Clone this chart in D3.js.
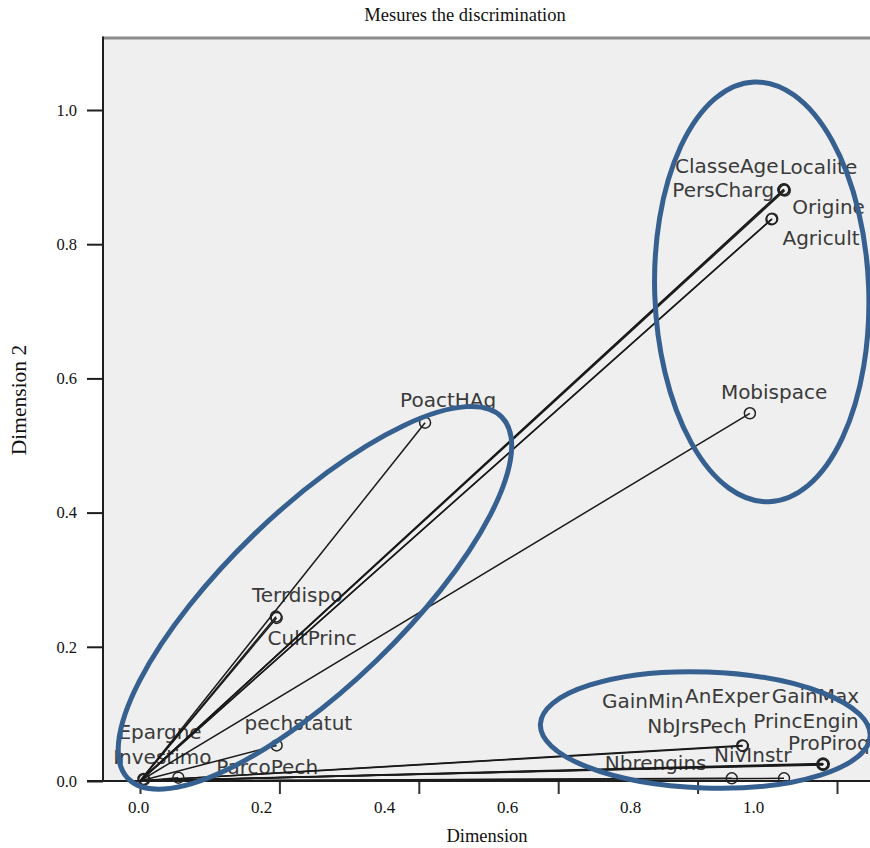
<!DOCTYPE html>
<html>
<head>
<meta charset="utf-8">
<script src="https://cdn.jsdelivr.net/npm/d3@7"></script>
<style>
  html, body { margin: 0; padding: 0; background: #ffffff; }
  svg { display: block; }
</style>
</head>
<body>
<svg id="chart" width="870" height="848"></svg>
<script>
// ---------------- data ----------------
const variables = ["ClasseAge","Localite","PersCharg","Origine","Agricult","Mobispace",
  "PoactHAg","Terrdispo","CultPrinc","pechstatut","Epargne","Investimo","ParcoPech",
  "GainMin","NbJrsPech","AnExper","GainMax","PrincEngin","ProPiroq","NivInstr","Nbrengins"];
const dimension1 = [0.924,0.925,0.923,0.907,0.906,0.875,
  0.409,0.195,0.196,0.196,0.005,0.006,0.055,
  0.865,0.864,0.980,0.981,0.979,0.980,0.924,0.849];
const dimension2 = [0.882,0.880,0.881,0.838,0.837,0.548,
  0.534,0.245,0.243,0.053,0.003,0.002,0.005,
  0.052,0.053,0.026,0.025,0.025,0.024,0.004,0.004];
const xTicks = [0.0,0.2,0.4,0.6,0.8,1.0];
const yTicks = [0.0,0.2,0.4,0.6,0.8,1.0];
const titleText = "Mesures the discrimination";
const xTitle = "Dimension";
const yTitle = "Dimension 2";

// ---------------- layout (label placement, annotations) ----------------
const labelOffset = {
  ClasseAge:[-109,-16], Localite:[-5,-17], PersCharg:[-111,7], Origine:[20,-5], Agricult:[11,26],
  Mobispace:[-29,-14], PoactHAg:[-25,-16], Terrdispo:[-24,-15], CultPrinc:[-9,27],
  pechstatut:[-32,-15], Epargne:[-25,-40], Investimo:[-31,-16], ParcoPech:[38,-4],
  GainMin:[-141,-38], NbJrsPech:[-95,-12], AnExper:[-138,-61], GainMax:[-52,-61],
  PrincEngin:[-69,-36], ProPiroq:[-35,-15], NivInstr:[-70,-16], Nbrengins:[-127,-8]
};
// hand-drawn ellipses (centre in data units, radii in x / y units, rotation in degrees)
const ellipseCx = [0.892, 0.251, 0.811];
const ellipseCy = [0.729, 0.273, 0.076];
const ellipseRx = [0.1535, 0.373, 0.2367];
const ellipseRy = [0.313, 0.131, 0.0864];
const ellipseRot = [-2, -44, 2];

const svg = d3.select("#chart");
const W = 870, H = 848;
const plotLeft = 103, plotTop = 38, plotBottom = 781;

const x = d3.scaleLinear().domain([0, 1]).range([140, 837]);
const y = d3.scaleLinear().domain([0, 1]).range([plotBottom, 110]);
// tick labels as typeset in the figure (not aligned with the tick marks)
const xLab = d3.scaleLinear().domain([0, 1]).range([138, 753]);

// plot background
svg.append("rect").attr("x", plotLeft).attr("y", plotTop)
  .attr("width", W - plotLeft + 5).attr("height", plotBottom - plotTop)
  .attr("fill", "#efefef");
svg.append("line").attr("x1", plotLeft).attr("x2", W).attr("y1", plotTop).attr("y2", plotTop)
  .attr("stroke", "#8c8c8c").attr("stroke-width", 3);
svg.append("line").attr("x1", plotLeft).attr("x2", plotLeft).attr("y1", plotTop - 1.5).attr("y2", plotBottom)
  .attr("stroke", "#1e1e1e").attr("stroke-width", 2);

// y axis
const yAxis = svg.append("g").attr("transform", `translate(${plotLeft},0)`)
  .call(d3.axisLeft(y).tickValues(yTicks).tickSize(16).tickPadding(10).tickFormat(d3.format(".1f")));
yAxis.select(".domain").remove();
yAxis.selectAll("line").attr("stroke", "#1e1e1e").attr("stroke-width", 2);
yAxis.selectAll("text").attr("font-family", "'Liberation Serif', 'Times New Roman', serif")
  .attr("font-size", 16.5).attr("fill", "#111");

// x axis ticks
const xAxis = svg.append("g").attr("transform", `translate(0,${plotBottom})`)
  .call(d3.axisBottom(x).tickValues(xTicks).tickSize(13).tickFormat(""));
xAxis.select(".domain").remove();
xAxis.selectAll("line").attr("stroke", "#333").attr("stroke-width", 2);
// x tick labels
const xAxisLab = svg.append("g").attr("transform", `translate(0,${plotBottom})`)
  .call(d3.axisBottom(xLab).tickValues(xTicks).tickSize(0).tickPadding(20).tickFormat(d3.format(".1f")));
xAxisLab.select(".domain").remove();
xAxisLab.selectAll("text").attr("font-family", "'Liberation Serif', 'Times New Roman', serif")
  .attr("font-size", 17).attr("fill", "#111");

// bottom axis line
svg.append("line").attr("x1", 87).attr("x2", W).attr("y1", plotBottom).attr("y2", plotBottom)
  .attr("stroke", "#1e1e1e").attr("stroke-width", 2);

// titles
svg.append("text").attr("x", 465).attr("y", 21).attr("text-anchor", "middle")
  .attr("font-family", "'Liberation Serif', 'Times New Roman', serif").attr("font-size", 18.5)
  .attr("fill", "#111").text(titleText);
svg.append("text").attr("x", 487).attr("y", 842).attr("text-anchor", "middle")
  .attr("font-family", "'Liberation Serif', 'Times New Roman', serif").attr("font-size", 18.5)
  .attr("fill", "#111").text(xTitle);
svg.append("text").attr("transform", "translate(26,400) rotate(-90)").attr("text-anchor", "middle")
  .attr("font-family", "'Liberation Serif', 'Times New Roman', serif").attr("font-size", 21.5)
  .attr("fill", "#111").text(yTitle);

// data
const pts = variables.map((name, i) => ({ name, d1: dimension1[i], d2: dimension2[i] }));

const g = svg.append("g");
// labels
g.selectAll("text.lbl").data(pts).join("text").attr("class", "lbl")
  .attr("x", d => x(d.d1) + labelOffset[d.name][0])
  .attr("y", d => y(d.d2) + labelOffset[d.name][1])
  .attr("font-family", "'DejaVu Sans', sans-serif").attr("font-size", 20)
  .attr("fill", "#3a3a3a").text(d => d.name);
// lines from origin
g.selectAll("line.vec").data(pts).join("line").attr("class", "vec")
  .attr("x1", x(0)).attr("y1", y(0))
  .attr("x2", d => x(d.d1)).attr("y2", d => y(d.d2))
  .attr("stroke", "#1a1a1a").attr("stroke-width", 1.5);
// points
g.selectAll("circle.pt").data(pts).join("circle").attr("class", "pt")
  .attr("cx", d => x(d.d1)).attr("cy", d => y(d.d2)).attr("r", 5.5)
  .attr("fill", "none").attr("stroke", "#222").attr("stroke-width", 1.5);

// blue hand-drawn ellipses
const ell = ellipseCx.map((cx, i) => ({ cx, cy: ellipseCy[i], rx: ellipseRx[i], ry: ellipseRy[i], rot: ellipseRot[i] }));
svg.append("g").selectAll("ellipse").data(ell).join("ellipse")
  .attr("transform", d => `translate(${x(d.cx)},${y(d.cy)}) rotate(${d.rot})`)
  .attr("rx", d => x(d.rx) - x(0))
  .attr("ry", d => y(0) - y(d.ry))
  .attr("fill", "none").attr("stroke", "#36608f").attr("stroke-width", 5);
</script>
</body>
</html>
